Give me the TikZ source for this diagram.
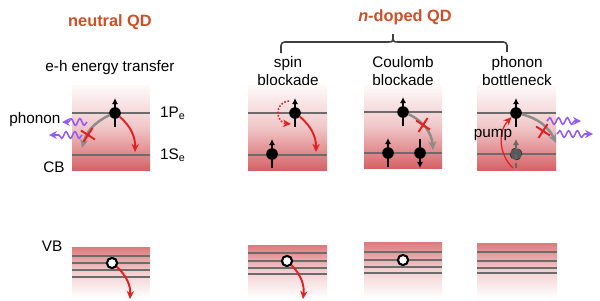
\documentclass[tikz,border=0pt]{standalone}
\usepackage{fontspec}
\setmainfont{Liberation Sans}
\usetikzlibrary{arrows.meta,decorations.pathmorphing,shapes.misc}

\definecolor{bandred}{RGB}{214,98,102}
\definecolor{titlered}{RGB}{206,78,40}
\definecolor{levelgray}{RGB}{108,108,108}
\definecolor{relaxred}{RGB}{226,32,32}
\definecolor{phononviolet}{RGB}{150,92,240}

\tikzset{
  cbband/.style={top color=bandred!3, bottom color=bandred, middle color=bandred!36},
  vbband/.style={top color=bandred!85, bottom color=white, middle color=bandred!30},
  level/.style={levelgray, line width=1.4pt},
  vblevel/.style={levelgray, line width=1.2pt},
  elec/.style={circle, fill=black, inner sep=0pt, minimum size=6.6pt},
  ghost/.style={circle, fill=black!65, draw=black!80, densely dashed, inner sep=0pt, minimum size=6.6pt},
  hole/.style={circle, fill=white, draw=black, line width=1.2pt, inner sep=0pt, minimum size=5.8pt},
  spin/.style={-{Latex[length=3.5pt,width=3.6pt]}, line width=0.8pt},
  relaxgray/.style={black!45, line width=1.4pt, -{Stealth[length=5pt,width=4.6pt]}},
  relaxarrow/.style={relaxred, line width=1.1pt, -{Stealth[length=4.6pt,width=4.2pt]}},
  blocked/.style={cross out, draw=relaxred, line width=1.1pt, minimum size=5.6pt, inner sep=0pt, rotate=12},
  phonon/.style={phononviolet, line width=0.9pt, decorate,
    decoration={snake, segment length=5pt, amplitude=1.9pt, post length=3.5pt},
    -{Stealth[length=4.5pt,width=4.5pt]}},
  title/.style={font=\fontsize{9.3}{11}\selectfont\bfseries, text=titlered},
  case/.style={align=center}
}

\begin{document}
\begin{tikzpicture}[x=0.2mm, y=-0.2mm, font=\fontsize{8.7}{10.4}\selectfont]
  \useasboundingbox (0,0) rectangle (600,300);
  % titles and bracket
  \node[title] (neutral) at (110,22) {neutral QD};
  \node[title] (doped) at (405,17) {\textit{n}-doped QD};
  \draw[black!75, line width=0.9pt, rounded corners=2pt] (281,53) -- (281,42) -- (388,42);
  \draw[black!75, line width=0.9pt, rounded corners=2pt] (398,42) -- (507,42) -- (507,52);
  \draw[black!75, line width=0.9pt] (388,42) .. controls (393,42) .. (393,34)
    .. controls (393,42) .. (398,42);
  % neutral QD
  \begin{scope}[xshift=1.44cm]
  \node[case] (eh) at (38,68) {e-h energy transfer};
  \shade[cbband] (0,85) rectangle (78,170);
  \draw[level] (0,113) -- (78,113);
  \draw[level] (0,155) -- (78,155);
  \node[anchor=west] (lp) at (82,113) {1P\textsubscript{e}};
  \node[anchor=west] (ls) at (82,155) {1S\textsubscript{e}};
  \node (cb) at (-18,167) {CB};
  \node (ph) at (-37,120) {phonon};
  \node[elec] (np) at (43,113) {};
  \draw[spin] ([yshift=-8pt]np.center) -- ([yshift=8.5pt]np.center);
  \coordinate (nsend) at (63,152);
  \draw[relaxarrow] (np) to[bend left=25] (nsend);
  \coordinate (ngend) at (10,148);
  \draw[relaxgray] (np) to[bend right=25] (ngend);
  \coordinate (nw1a) at (15,122);
  \coordinate (nw1b) at (-10,122);
  \coordinate (nw2a) at (10,135);
  \coordinate (nw2b) at (-23,135);
  \draw[phonon] (nw1a) -- (nw1b);
  \draw[phonon] (nw2a) -- (nw2b);
  \node[blocked] (nx) at (16,135) {};
  % valence band
  \shade[vbband] (0,247) rectangle (78,298);
  \foreach \y in {256,263,270,277}
    \draw[vblevel] (0,\y) -- (78,\y);
  \node (vb) at (-20,246) {VB};
  \node[hole] (nh) at (40,263) {};
  \coordinate (nhend) at (58,299);
  \draw[relaxarrow] (nh) to[bend left=25] (nhend);
  \end{scope}
  % spin blockade
  \begin{scope}[xshift=4.96cm]
  \node[case] (sb) at (40,71) {spin\\blockade};
  \shade[cbband] (0,85) rectangle (79,170);
  \draw[level] (0,113) -- (79,113);
  \draw[level] (0,155) -- (79,155);
  \node[elec] (sp) at (47,113) {};
  \draw[spin] ([yshift=-8pt]sp.center) -- ([yshift=8.5pt]sp.center);
  \node[elec] (ss) at (24,154) {};
  \draw[spin] ([yshift=-8pt]ss.center) -- ([yshift=8.5pt]ss.center);
  \coordinate (srend) at (68,152);
  \draw[relaxarrow] (sp) to[bend left=25] (srend);
  \coordinate (sda) at (41,101);
  \coordinate (sdb) at (43,124);
  \draw[relaxarrow, line width=0.9pt, densely dotted] (sda) to[out=185,in=175,looseness=1.7] (sdb);
  % valence band
  \shade[vbband] (0,245) rectangle (79,298);
  \foreach \y in {253,261,268,274}
    \draw[vblevel] (0,\y) -- (79,\y);
  \node[hole] (sh) at (39,261) {};
  \coordinate (shend) at (55,299);
  \draw[relaxarrow] (sh) to[bend left=25] (shend);
  \end{scope}
  % Coulomb blockade
  \begin{scope}[xshift=7.28cm]
  \node[case] (clb) at (39,71) {Coulomb\\blockade};
  \shade[cbband] (0,85) rectangle (78,168);
  \draw[level] (0,112) -- (78,112);
  \draw[level] (0,153) -- (78,153);
  \node[elec] (cp) at (39,112) {};
  \draw[spin] ([yshift=-8pt]cp.center) -- ([yshift=8.5pt]cp.center);
  \node[elec] (cs) at (24,153) {};
  \draw[spin] ([yshift=-8pt]cs.center) -- ([yshift=8.5pt]cs.center);
  \node[elec] (cd) at (56,153) {};
  \draw[spin] ([yshift=8pt]cd.center) -- ([yshift=-8.5pt]cd.center);
  \coordinate (cgend) at (69,150);
  \draw[relaxgray] (cp) to[bend left=30] (cgend);
  \node[blocked] (cx) at (59,125) {};
  % valence band
  \shade[vbband] (0,242) rectangle (78,298);
  \foreach \y in {252,260,267,273}
    \draw[vblevel] (0,\y) -- (78,\y);
  \node[hole] (ch) at (39,260) {};
  \end{scope}
  % phonon bottleneck
  \begin{scope}[xshift=9.54cm]
  \node[case] (pb) at (40,71) {phonon\\bottleneck};
  \shade[cbband] (0,85) rectangle (79,170);
  \draw[level] (0,113) -- (79,113);
  \draw[level] (0,154) -- (79,154);
  \node[ghost] (bg) at (39,154) {};
  \draw[spin, black!60, densely dashed] ([yshift=-8pt]bg.center) -- ([yshift=8.5pt]bg.center);
  \node[elec] (bp) at (39,113) {};
  \draw[spin] ([yshift=-8pt]bp.center) -- ([yshift=8.5pt]bp.center);
  \coordinate (pumpstart) at (36,168);
  \draw[relaxarrow, line width=0.7pt] (pumpstart) to[bend left=45] (bp);
  \node (pump) at (16,135) {pump};
  \coordinate (bgend) at (79,143);
  \draw[relaxgray] (bp) to[bend left=25] (bgend);
  \coordinate (bw1a) at (70,121);
  \coordinate (bw1b) at (104,121);
  \coordinate (bw2a) at (80,134);
  \coordinate (bw2b) at (116,134);
  \draw[phonon] (bw1a) -- (bw1b);
  \draw[phonon] (bw2a) -- (bw2b);
  \node[blocked] (bx) at (66,131) {};
  % valence band
  \shade[vbband] (0,243) rectangle (80,298);
  \foreach \y in {252,261,268,273}
    \draw[vblevel] (0,\y) -- (80,\y);
  \end{scope}
\end{tikzpicture}
\end{document}
